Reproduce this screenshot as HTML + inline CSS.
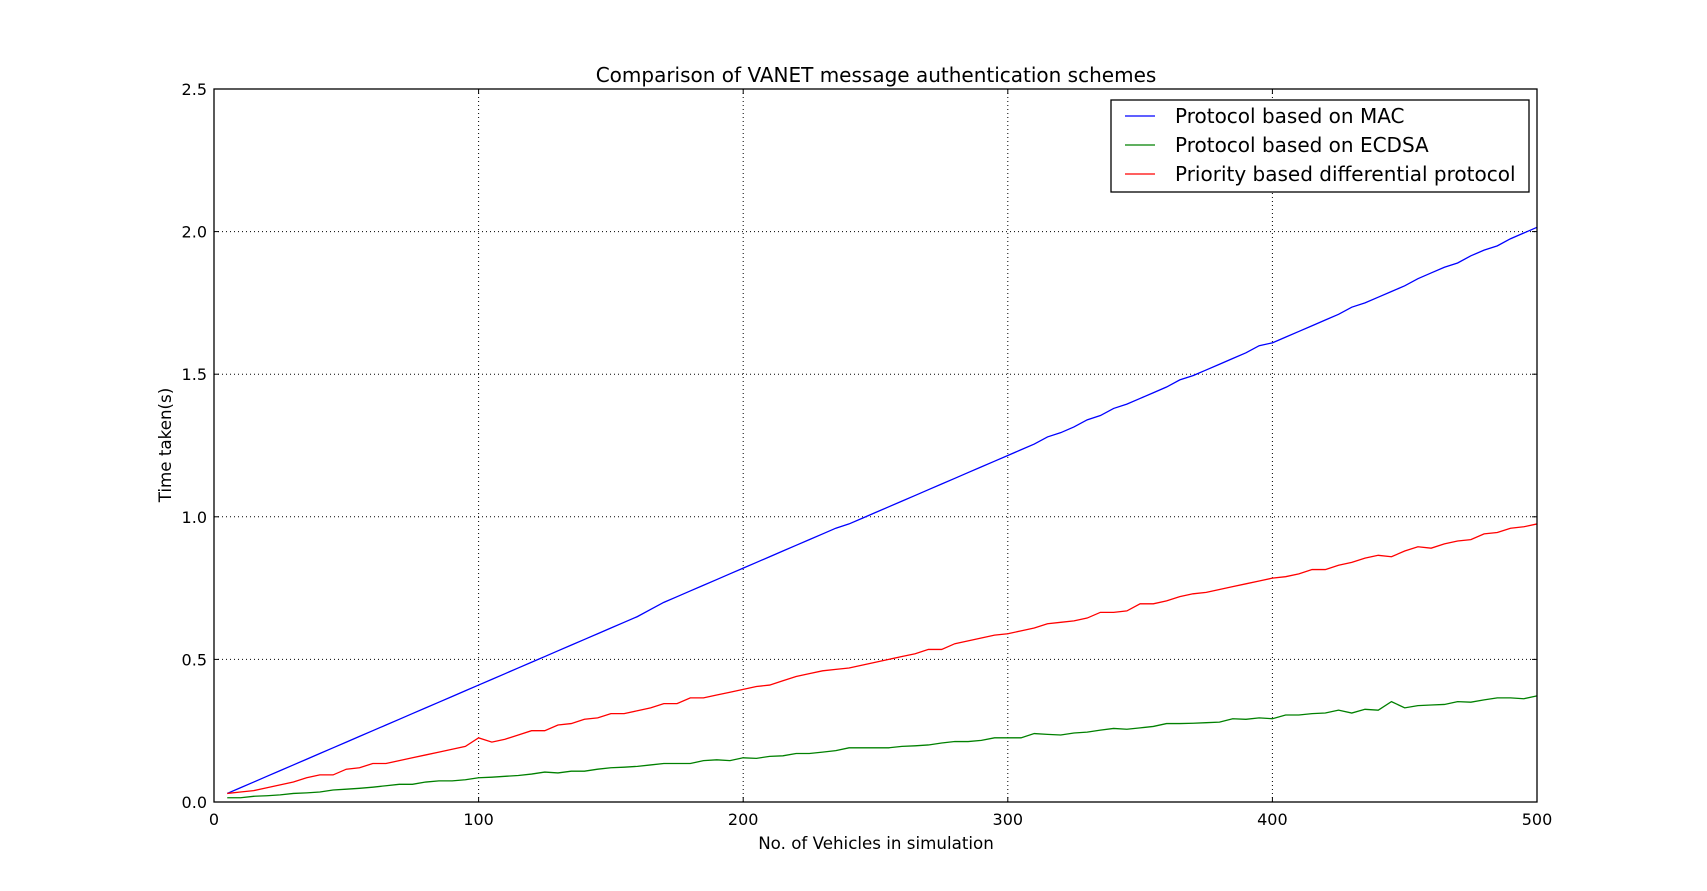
<!DOCTYPE html>
<html><head><meta charset="utf-8"><style>
html,body{margin:0;padding:0;background:#fff;}
svg{display:block;font-family:"DejaVu Sans","Liberation Sans",sans-serif;}
</style></head><body>
<svg id="chart" width="1707" height="891"></svg>
<script>
const xValues=[];for(let i=5;i<=500;i+=5)xValues.push(i);
const macValues=[0.03,0.05,0.07,0.09,0.11,0.13,0.15,0.17,0.19,0.21,0.23,0.25,0.27,0.29,0.31,0.33,0.35,0.37,0.39,0.41,0.43,0.45,0.47,0.49,0.51,0.53,0.55,0.57,0.59,0.61,0.63,0.65,0.675,0.70,0.72,0.74,0.76,0.78,0.80,0.82,0.84,0.86,0.88,0.90,0.92,0.94,0.96,0.975,0.995,1.015,1.035,1.055,1.075,1.095,1.115,1.135,1.155,1.175,1.195,1.215,1.235,1.255,1.28,1.295,1.315,1.34,1.355,1.38,1.395,1.415,1.435,1.455,1.48,1.495,1.515,1.535,1.555,1.575,1.60,1.61,1.63,1.65,1.67,1.69,1.71,1.735,1.75,1.77,1.79,1.81,1.835,1.855,1.875,1.89,1.915,1.935,1.95,1.975,1.995,2.015];
const ecdsaValues=[0.015,0.015,0.02,0.022,0.025,0.03,0.032,0.035,0.042,0.045,0.048,0.052,0.057,0.062,0.062,0.07,0.074,0.074,0.078,0.085,0.087,0.09,0.093,0.098,0.105,0.102,0.108,0.108,0.115,0.12,0.122,0.125,0.13,0.135,0.135,0.135,0.145,0.148,0.145,0.155,0.153,0.16,0.162,0.17,0.17,0.175,0.18,0.19,0.19,0.19,0.19,0.195,0.197,0.2,0.207,0.212,0.212,0.216,0.225,0.225,0.225,0.24,0.237,0.235,0.242,0.245,0.252,0.258,0.255,0.26,0.265,0.275,0.275,0.276,0.278,0.28,0.292,0.29,0.295,0.292,0.305,0.305,0.31,0.312,0.322,0.312,0.325,0.322,0.352,0.33,0.338,0.34,0.342,0.352,0.35,0.358,0.365,0.365,0.362,0.372];
const priorityValues=[0.03,0.035,0.04,0.05,0.06,0.07,0.085,0.095,0.095,0.115,0.12,0.135,0.135,0.145,0.155,0.165,0.175,0.185,0.195,0.225,0.21,0.22,0.235,0.25,0.25,0.27,0.275,0.29,0.295,0.31,0.31,0.32,0.33,0.345,0.345,0.365,0.365,0.375,0.385,0.395,0.405,0.41,0.425,0.44,0.45,0.46,0.465,0.47,0.48,0.49,0.50,0.51,0.52,0.535,0.535,0.555,0.565,0.575,0.585,0.59,0.60,0.61,0.625,0.63,0.635,0.645,0.665,0.665,0.67,0.695,0.695,0.705,0.72,0.73,0.735,0.745,0.755,0.765,0.775,0.785,0.79,0.80,0.815,0.815,0.83,0.84,0.855,0.865,0.86,0.88,0.895,0.89,0.905,0.915,0.92,0.94,0.945,0.96,0.965,0.975];
const xTicks=[0,100,200,300,400,500];
const yTicks=[0,0.5,1.0,1.5,2.0,2.5];
const yTickLabels=["0.0","0.5","1.0","1.5","2.0","2.5"];
const seriesNames=["Protocol based on MAC","Protocol based on ECDSA","Priority based differential protocol"];

const L=214,R=1537,T=89,B=802;
const sx=v=>L+(v-0)/(500-0)*(R-L);
const sy=v=>B-(v-0)/(2.5-0)*(B-T);
const svg=document.getElementById('chart');
const NS='http://www.w3.org/2000/svg';
function mk(tag,attrs,parent){const e=document.createElementNS(NS,tag);for(const k in attrs)e.setAttribute(k,attrs[k]);(parent||svg).appendChild(e);return e;}

xTicks.forEach((t,i)=>{if(t>0&&t<500){const g=mk('line',{x1:sx(t),x2:sx(t),y1:T,y2:B,stroke:'#000','stroke-dasharray':'1,3','stroke-width':1});

}});
yTicks.forEach(t=>{if(t>0&&t<2.5){const g=mk('line',{x1:L,x2:R,y1:sy(t),y2:sy(t),stroke:'#000','stroke-dasharray':'1,3','stroke-width':1});

}});

const colors=['#0000ff','#008000','#ff0000'];
[macValues,ecdsaValues,priorityValues].forEach((arr,si)=>{
 const d=arr.map((v,i)=>(i?'L':'M')+sx(xValues[i]).toFixed(2)+','+sy(v).toFixed(2)).join(' ');
 const p=mk('path',{d:d,fill:'none',stroke:colors[si],'stroke-width':1.3});
 
 
});

const fr=mk('rect',{x:L,y:T,width:R-L,height:B-T,fill:'none',stroke:'#000','stroke-width':1.3});



xTicks.forEach(t=>{
 mk('line',{x1:sx(t),x2:sx(t),y1:B,y2:B-5,stroke:'#000'});
 mk('line',{x1:sx(t),x2:sx(t),y1:T,y2:T+5,stroke:'#000'});
 const tx=mk('text',{x:sx(t),y:B+23,'font-size':16,'text-anchor':'middle'});tx.textContent=t;
 
 
});
yTicks.forEach((t,i)=>{
 mk('line',{x1:L,x2:L+5,y1:sy(t),y2:sy(t),stroke:'#000'});
 mk('line',{x1:R,x2:R-5,y1:sy(t),y2:sy(t),stroke:'#000'});
 const tx=mk('text',{x:L-7,y:sy(t)+6,'font-size':16,'text-anchor':'end'});tx.textContent=yTickLabels[i];
 
 
});

let t1=mk('text',{x:876,y:82,'font-size':20,'text-anchor':'middle'});t1.textContent='Comparison of VANET message authentication schemes';


let t2=mk('text',{x:876,y:849,'font-size':16.7,'text-anchor':'middle'});t2.textContent='No. of Vehicles in simulation';


let t3=mk('text',{x:171,y:445,'font-size':16.7,'text-anchor':'middle',transform:'rotate(-90 171 445)'});t3.textContent='Time taken(s)';



const lg=mk('g',{});


mk('rect',{x:1111,y:100,width:418,height:92,fill:'#fff',stroke:'#000','stroke-width':1.3},lg);
seriesNames.forEach((n,i)=>{
 const y=116+i*29;
 const e=mk('g',{},lg);
 
 
 mk('line',{x1:1125,x2:1155,y1:y,y2:y,stroke:colors[i],'stroke-width':1.3},e);
 const tx=mk('text',{x:1175,y:y+7,'font-size':20},e);tx.textContent=n;
});
</script>
</body></html>
